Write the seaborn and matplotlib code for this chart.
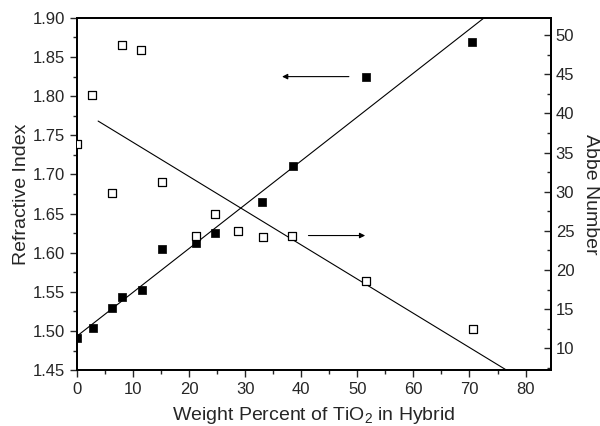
import numpy as np
import pandas as pd
import matplotlib
matplotlib.use("Agg")
import matplotlib.pyplot as plt
import seaborn as sns
from matplotlib.ticker import MultipleLocator

# refractive index (filled squares, left axis)
ri_wt = [0, 2.8, 6.2, 8.1, 11.6, 15.1, 21.2, 24.6, 28.7, 33.1, 38.5, 51.5, 70.4]
ri_val = [1.491, 1.504, 1.529, 1.544, 1.552, 1.605, 1.612, 1.625, 1.628,
          1.665, 1.711, 1.825, 1.869]

# Abbe number (open squares, right axis)
abbe_wt = [0, 2.7, 6.2, 8.0, 11.5, 15.1, 21.2, 24.7, 28.7, 33.2, 38.4, 51.6, 70.6]
abbe_val = [36.1, 42.4, 29.8, 48.8, 48.1, 31.3, 24.4, 27.2, 25.0, 24.2,
            24.3, 18.6, 12.4]

# x ranges of the two fitted lines
ri_fit_range = [0, 85]
abbe_fit_range = [3.8, 85]

sns.set_style("ticks")
plt.rcParams['font.family'] = ['Liberation Sans', 'DejaVu Sans']
plt.rcParams['mathtext.fontset'] = 'custom'
plt.rcParams['mathtext.rm'] = 'Liberation Sans'

fig = plt.figure(figsize=(6, 4.26), dpi=100)
ax = fig.add_axes([0.128, 0.131, 0.79, 0.827])
ax2 = ax.twinx()

ri_df = pd.DataFrame({"wt": ri_wt, "ri": ri_val})
abbe_df = pd.DataFrame({"wt": abbe_wt, "abbe": abbe_val})

# linear fits
p1 = np.polyfit(ri_wt, ri_val, 1)
xs1 = np.array(ri_fit_range, dtype=float)
fit1 = pd.DataFrame({"wt": xs1, "ri": np.polyval(p1, xs1)})
p2 = np.polyfit(abbe_wt, abbe_val, 1)
xs2 = np.array(abbe_fit_range, dtype=float)
fit2 = pd.DataFrame({"wt": xs2, "abbe": np.polyval(p2, xs2)})

sns.lineplot(data=fit1, x="wt", y="ri", ax=ax, color="black", linewidth=0.8)
sns.scatterplot(data=ri_df, x="wt", y="ri", ax=ax, marker="s", s=28,
                color="black", edgecolor="black", linewidth=0.5, zorder=3)

sns.lineplot(data=fit2, x="wt", y="abbe", ax=ax2, color="black", linewidth=0.8)
sns.scatterplot(data=abbe_df, x="wt", y="abbe", ax=ax2, marker="s", s=36,
                facecolor="white", edgecolor="black", linewidth=0.9, zorder=3)

ax.set_xlim(0, 84.5)
ax.set_ylim(1.45, 1.90)
ax2.set_ylim(7.2, 52.2)

ax.xaxis.set_major_locator(MultipleLocator(10))
ax.xaxis.set_minor_locator(MultipleLocator(5))
ax.yaxis.set_major_locator(MultipleLocator(0.05))
ax.yaxis.set_minor_locator(MultipleLocator(0.025))
ax2.yaxis.set_major_locator(MultipleLocator(5))
ax2.yaxis.set_minor_locator(MultipleLocator(2.5))
ax.yaxis.set_major_formatter(matplotlib.ticker.FormatStrFormatter("%.2f"))

ax.tick_params(axis="both", which="major", direction="out", length=5,
               width=1, labelsize=12)
ax.tick_params(axis="both", which="minor", direction="out", length=3, width=1)
ax2.tick_params(axis="y", which="major", direction="in", length=5, width=1,
                labelsize=12)
ax2.tick_params(axis="y", which="minor", direction="in", length=3, width=1)

for a in (ax, ax2):
    for sp in a.spines.values():
        sp.set_linewidth(1.3)
        sp.set_color("black")

ax.set_xlabel("Weight Percent of TiO$_2$ in Hybrid", fontsize=14, labelpad=6)
ax.set_ylabel("Refractive Index", fontsize=14, labelpad=2)
ax2.set_ylabel("Abbe Number", fontsize=14, rotation=270, labelpad=18)

# arrows pointing to the axis each series belongs to
ax.annotate("", xy=(36.1, 1.825), xytext=(49.0, 1.825),
            arrowprops=dict(arrowstyle="-|>", color="black", lw=0.8,
                            mutation_scale=8))
ax2.annotate("", xy=(51.9, 24.4), xytext=(40.8, 24.4),
             arrowprops=dict(arrowstyle="-|>", color="black", lw=0.8,
                             mutation_scale=8))

fig.savefig("out.png", dpi=100)
